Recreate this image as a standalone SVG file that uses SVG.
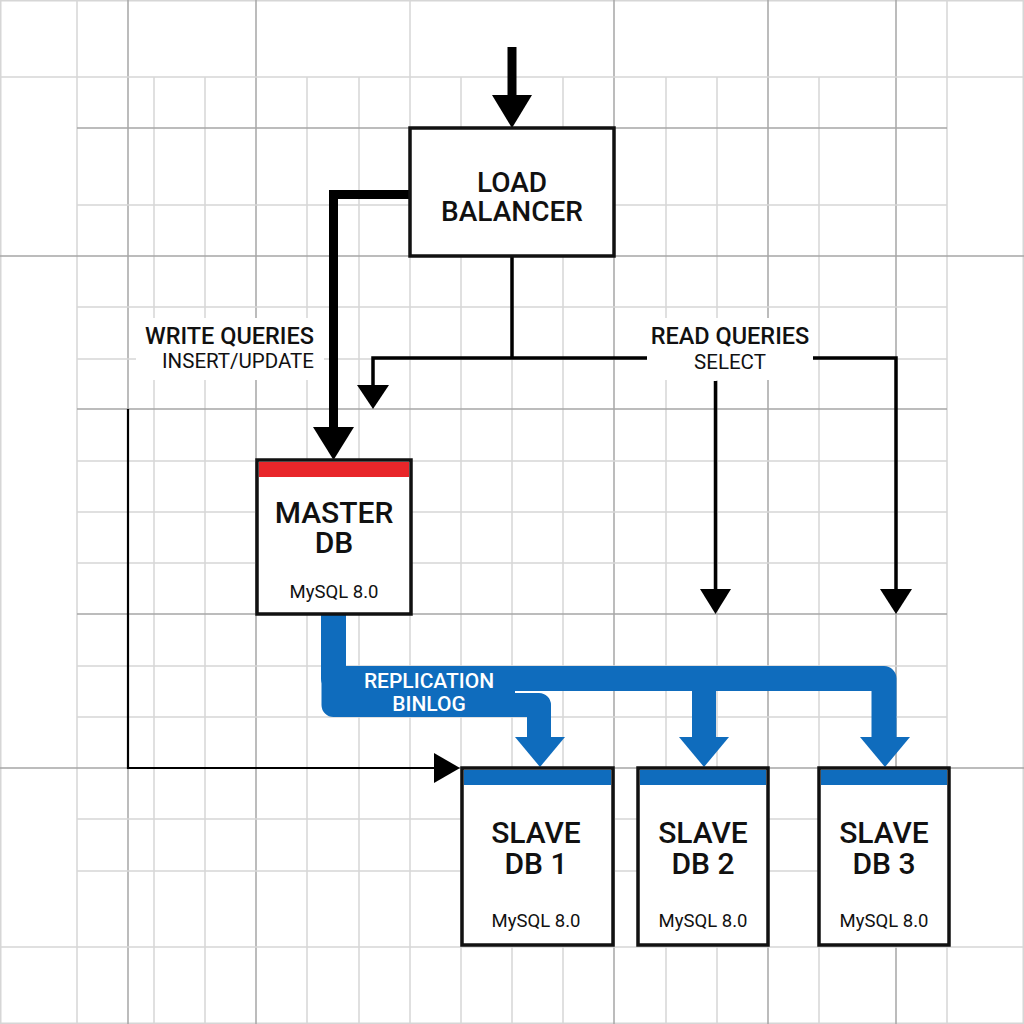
<svg xmlns="http://www.w3.org/2000/svg" width="1024" height="1024" viewBox="0 0 1024 1024">
  <style>
    .g1 { stroke: #d6d6d6; stroke-width: 1.5; fill: none; }
    .g2 { stroke: #a6a6a6; stroke-width: 1.5; fill: none; }
    .box { fill: #ffffff; stroke: #111111; stroke-width: 3.5; }
    .t { font-family: Roboto, "Liberation Sans", Arial, sans-serif; fill: #111111; text-anchor: middle; }
    .title { font-size: 28px; font-weight: 500; }
    .big { font-size: 30px; font-weight: 500; }
    .sub { font-size: 18.5px; font-weight: 400; }
    .lbl { font-size: 23.5px; font-weight: 500; }
    .lbl2 { font-size: 20.5px; font-weight: 400; }
    .blk { stroke: #000000; fill: none; stroke-linejoin: miter; }
    .blue { stroke: #0f6cbd; fill: none; stroke-linejoin: round; }
    .bluefill { fill: #0f6cbd; }
    .head { fill: #000000; }
    .rep { font-family: Roboto, "Liberation Sans", Arial, sans-serif; fill: #ffffff; font-size: 21px; font-weight: 500; text-anchor: middle; }
  </style>
  <rect x="0" y="0" width="1024" height="1024" fill="#ffffff"/>
  <g id="grid">
    <path class="g1" d="M0.75,0 V1024 M1023.25,0 V1024 M0,0.75 H1024 M0,1023.25 H1024"/>
    <path class="g1" d="M77,0 V1024 M154,77 V1024 M205,77 V1024 M307,77 V1024 M359,77 V1024 M410,0 V1024 M461,77 V1024 M512,77 V1024 M563,77 V1024 M666,77 V1024 M717,77 V1024 M819,77 V1024 M947,0 V1024"/>
    <path class="g2" d="M128,0 V1024 M256,0 V1024 M614,0 V1024 M768,0 V1024 M896,0 V1024"/>
    <path class="g1" d="M0,77 H1024 M77,205 H947 M77,307 H947 M77,359 H947 M77,461 H947 M77,512 H947 M77,563 H947 M77,666 H947 M77,717 H947 M77,819 H947 M77,871 H947 M0,947 H1024"/>
    <path class="g2" d="M77,128 H947 M0,256 H1024 M77,409 H947 M77,614 H947 M0,768 H1024"/>
  </g>
  <g id="label-backgrounds">
    <rect x="136" y="318" width="188" height="62" fill="#ffffff"/>
    <rect x="647" y="318" width="166" height="62" fill="#ffffff"/>
  </g>
  <g id="connectors">
    <!-- entry arrow -->
    <path class="blk" stroke-width="9" d="M512,47 V100"/>
    <polygon class="head" points="492,95 532,95 512,128"/>
    <!-- write queries -->
    <path class="blk" stroke-width="9" d="M410,194.5 H333.5 V430"/>
    <polygon class="head" points="313,427 354,427 333.5,460"/>
    <!-- read queries -->
    <path class="blk" stroke-width="3.5" d="M512,256 V358 M647,358 H373 V388"/>
    <polygon class="head" points="357,385 389,385 373,409"/>
    <path class="blk" stroke-width="3.5" d="M813,358 H896 V592"/>
    <polygon class="head" points="880,589 912,589 896,614"/>
    <path class="blk" stroke-width="3.5" d="M715.5,381 V592"/>
    <polygon class="head" points="700,589 731,589 715.5,614"/>
    <!-- thin bypass line -->
    <path class="blk" stroke-width="2.2" d="M128,409 V768 H438"/>
    <polygon class="head" points="434,753 460,768 434,783"/>
    <!-- replication -->
    <path class="blue" stroke-width="25" d="M333.5,614 V678.5 H884 V741"/>
    <path class="blue" stroke-width="24" d="M333.5,614 V705 H539 V741"/>
    <rect class="bluefill" x="333" y="666" width="182" height="51"/>
    <path class="blue" stroke-width="24" d="M704,678 V741"/>
    <polygon class="bluefill" points="515,737 565,737 540,767"/>
    <polygon class="bluefill" points="679,737 729,737 704,767"/>
    <polygon class="bluefill" points="860,737 910,737 885,767"/>
    <text class="rep" x="429" y="688">REPLICATION</text>
    <text class="rep" x="429" y="711">BINLOG</text>
  </g>
  <g id="write-label">
    <text class="t lbl" x="314" y="344" style="text-anchor:end">WRITE QUERIES</text>
    <text class="t lbl2" x="314" y="368" style="text-anchor:end">INSERT/UPDATE</text>
  </g>
  <g id="read-label">
    <text class="t lbl" x="730" y="344">READ QUERIES</text>
    <text class="t lbl2" x="730" y="369">SELECT</text>
  </g>
  <g id="load-balancer">
    <rect class="box" x="410" y="128" width="204" height="128" stroke-width="3"/>
    <text class="t title" x="512" y="192">LOAD</text>
    <text class="t title" x="512" y="221">BALANCER</text>
  </g>
  <g id="master-db">
    <rect class="box" x="257" y="460" width="154" height="154"/>
    <rect x="259" y="462" width="150" height="15" fill="#e8262a"/>
    <text class="t big" x="334" y="523">MASTER</text>
    <text class="t big" x="334" y="553">DB</text>
    <text class="t sub" x="334" y="598">MySQL 8.0</text>
  </g>
  <g id="slave-db-1">
    <rect class="box" x="462" y="768" width="151" height="177"/>
    <rect x="464" y="770" width="147" height="15" fill="#0f6cbd"/>
    <text class="t big" x="536" y="843">SLAVE</text>
    <text class="t big" x="536" y="874">DB 1</text>
    <text class="t sub" x="536" y="927">MySQL 8.0</text>
  </g>
  <g id="slave-db-2">
    <rect class="box" x="638" y="768" width="130" height="177"/>
    <rect x="640" y="770" width="126" height="15" fill="#0f6cbd"/>
    <text class="t big" x="703" y="843">SLAVE</text>
    <text class="t big" x="703" y="874">DB 2</text>
    <text class="t sub" x="703" y="927">MySQL 8.0</text>
  </g>
  <g id="slave-db-3">
    <rect class="box" x="819" y="768" width="130" height="177"/>
    <rect x="821" y="770" width="126" height="15" fill="#0f6cbd"/>
    <text class="t big" x="884" y="843">SLAVE</text>
    <text class="t big" x="884" y="874">DB 3</text>
    <text class="t sub" x="884" y="927">MySQL 8.0</text>
  </g>
</svg>
